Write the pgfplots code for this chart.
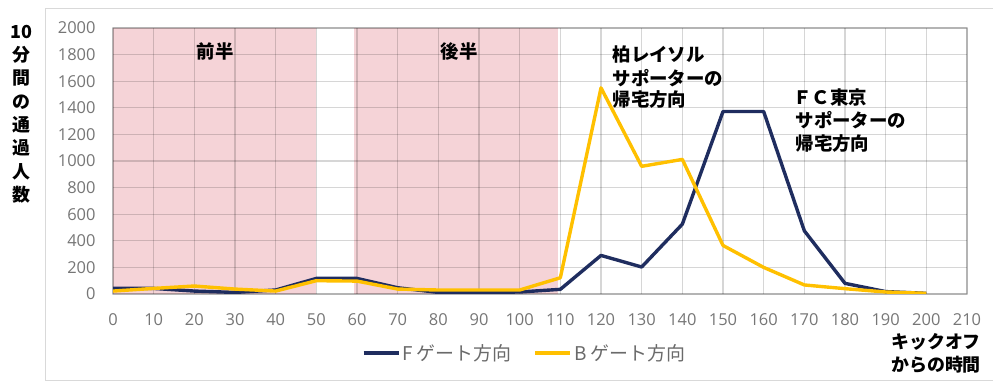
\documentclass[border=0pt]{standalone}
\usepackage{pgfplots}
\pgfplotsset{compat=1.18}
\usepackage{fontspec}
\setmainfont{Open Sans}
\newfontfamily\jp{Noto Sans CJK JP}

\definecolor{fgate}{HTML}{1F2D5F}
\definecolor{bgate}{HTML}{FFC000}
\definecolor{halfpink}{HTML}{F5D3D7}
\definecolor{ticktext}{HTML}{767676}
\definecolor{legtext}{HTML}{6A6A6A}

\begin{document}
\begin{tikzpicture}
% chart frame (open on the right)
\draw[draw=black!15, line width=0.8bp] (993bp,375bp) -- (45bp,375bp) -- (45bp,3bp) -- (993bp,3bp);

\begin{axis}[
  set layers,
  at={(113bp,89bp)}, anchor=south west,
  scale only axis, width=854bp, height=266bp,
  xmin=0, xmax=210, ymin=0, ymax=2000,
  xtick={0,10,...,210}, ytick={0,200,...,2000},
  grid=major,
  major grid style={draw=black, opacity=0.16, line width=1.3bp},
  axis line style={draw=black, opacity=0.16, line width=1.3bp},
  major tick length=0pt,
  tick label style={font=\fontsize{16.5}{18}\selectfont, text=ticktext},
  /pgf/number format/assume math mode=true,
  /pgf/number format/1000 sep={},
  xticklabel style={yshift=-16bp},
  yticklabel style={xshift=-14bp},
  legend columns=2,
  legend style={at={(0.482,-0.222)}, anchor=center, draw=none, fill=none,
    font=\jp\fontsize{19}{21}\selectfont, text=legtext,
    /tikz/every even column/.append style={column sep=20bp}},
  legend image code/.code={\draw[#1] (0bp,0bp) -- (35bp,0bp);},
]
% first and second half of the match
\addplot[fill=halfpink, draw=none, on layer=axis background, forget plot]
  coordinates {(0,0) (50,0) (50,2000) (0,2000)};
\addplot[fill=halfpink, draw=none, on layer=axis background, forget plot]
  coordinates {(59.3,0) (109.4,0) (109.4,2000) (59.3,2000)};

\addplot[fgate, line width=3.4bp, line join=round] coordinates {
 (0,42) (10,42) (20,22) (30,12) (40,30) (50,117) (60,117) (70,47)
 (80,12) (90,12) (100,15) (110,35) (120,290) (130,203) (140,525)
 (150,1372) (160,1372) (170,475) (180,80) (190,18) (200,5)};
\addlegendentry{F ゲート方向}
\addplot[bgate, line width=3.4bp, line join=round] coordinates {
 (0,22) (10,42) (20,60) (30,37) (40,22) (50,100) (60,97) (70,37)
 (80,30) (90,30) (100,30) (110,122) (120,1550) (130,960) (140,1012)
 (150,365) (160,200) (170,68) (180,40) (190,15) (200,5)};
\addlegendentry{B ゲート方向}

\node[font=\jp\bfseries\fontsize{18.5}{20}\selectfont] at (axis cs:25.1,1820) {前半};
\node[font=\jp\bfseries\fontsize{18.5}{20}\selectfont] at (axis cs:85.1,1820) {後半};

\begin{scope}[every node/.style={font=\jp\bfseries\fontsize{18.5}{20}\selectfont, anchor=west, inner sep=0pt}]
\node at (axis cs:122.8,1797) {柏レイソル};
\node at (axis cs:122.8,1624) {サポーターの};
\node at (axis cs:122.8,1459) {帰宅方向};
\node at (axis cs:167.3,1481) {ＦＣ東京};
\node at (axis cs:167.8,1308) {サポーターの};
\node at (axis cs:167.8,1135) {帰宅方向};
\end{scope}
\end{axis}

% vertical y-axis title
\begin{scope}[every node/.style={font=\jp\bfseries\fontsize{18}{20}\selectfont, inner sep=0pt}]
\foreach \t/\yy in {10/32, 分/55, 間/78, の/102, 通/125, 過/148, 人/172, 数/195}
  \node at (21bp,383bp-\yy bp) {\t};
% x-axis title
\node[anchor=west] at (891bp,41bp) {キックオフ};
\node[anchor=west] at (891bp,18bp) {からの時間};
\end{scope}

\pgfresetboundingbox
\useasboundingbox (0bp,0bp) rectangle (993bp,383bp);
\end{tikzpicture}
\end{document}
